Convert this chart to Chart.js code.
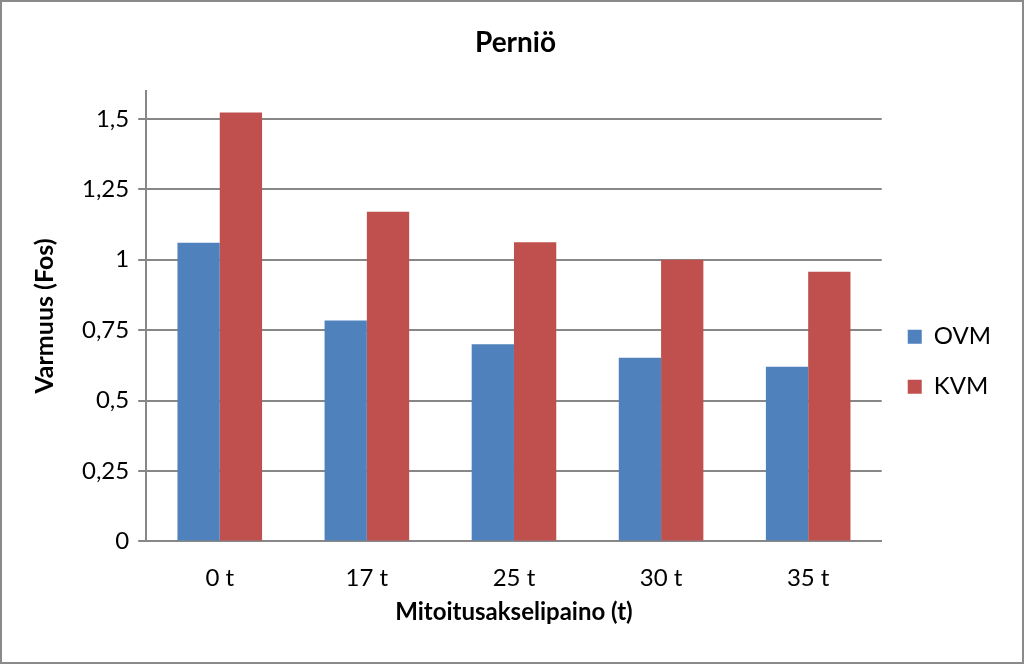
<!DOCTYPE html>
<html lang="fi">
<head>
    <meta charset="UTF-8">
    <title>Perniö</title>
    <script src="https://cdn.jsdelivr.net/npm/chart.js@4.4.0/dist/chart.umd.min.js"></script>
    <style>
        body { margin: 0; background: #fff; }
        #wrap { width: 1024px; height: 664px; box-sizing: border-box; border: 2px solid #8a8a8a; }
    </style>
</head>
<body>
    <div id="wrap"><canvas id="myChart" width="1020" height="660"></canvas></div>

    <script>
    const categories = ['0 t', '17 t', '25 t', '30 t', '35 t'];
    const ovm = [1.06, 0.784, 0.70, 0.652, 0.62];
    const kvm = [1.522, 1.17, 1.062, 1.0, 0.957];
    const yTicks = [0, 0.25, 0.5, 0.75, 1, 1.25, 1.5];

    const font = "Lato, 'Open Sans', sans-serif";
    const gridGray = '#878787';

    new Chart(document.getElementById('myChart'), {
        type: 'bar',
        data: {
            labels: categories,
            datasets: [{
                label: 'OVM',
                data: ovm,
                backgroundColor: '#4F81BD'
            }, {
                label: 'KVM',
                data: kvm,
                backgroundColor: '#C0504D'
            }]
        },
        options: {
            responsive: false,
            animation: false,
            layout: { padding: { top: 20, left: 28, right: 21, bottom: 35 } },
            datasets: { bar: { categoryPercentage: 0.575, barPercentage: 1 } },
            plugins: {
                title: {
                    display: true,
                    text: 'Perniö',
                    color: '#000',
                    font: { family: font, size: 28, weight: 'bold' },
                    padding: { top: 4, bottom: 31 }
                },
                legend: {
                    position: 'right',
                    align: 'center',
                    // empty title only pushes the items down a bit
                    title: { display: true, text: ' ', font: { size: 12 }, padding: 30 },
                    labels: {
                        color: '#000',
                        font: { family: font, size: 24 },
                        boxWidth: 14,
                        boxHeight: 14,
                        padding: 26
                    }
                },
                tooltip: { enabled: false }
            },
            scales: {
                x: {
                    grid: { display: false },
                    border: { color: gridGray, width: 2 },
                    ticks: { color: '#000', font: { family: font, size: 24 }, padding: 14 },
                    title: {
                        display: true,
                        text: 'Mitoitusakselipaino (t)',
                        color: '#000',
                        font: { family: font, size: 24, weight: 'bold' },
                        padding: { top: -8, bottom: 0 }
                    }
                },
                y: {
                    min: 0,
                    max: 1.6,
                    afterBuildTicks: scale => { scale.ticks = yTicks.map(v => ({ value: v })); },
                    grid: { color: gridGray, lineWidth: 2, tickLength: 8 },
                    border: { color: gridGray, width: 2 },
                    ticks: {
                        color: '#000',
                        font: { family: font, size: 24 },
                        padding: 9,
                        callback: v => String(v).replace('.', ',')
                    },
                    title: {
                        display: true,
                        text: 'Varmuus (Fos)',
                        color: '#000',
                        font: { family: font, size: 25, weight: 'bold' },
                        padding: { top: 0, bottom: 13 }
                    }
                }
            }
        }
    });
    </script>
</body>
</html>
